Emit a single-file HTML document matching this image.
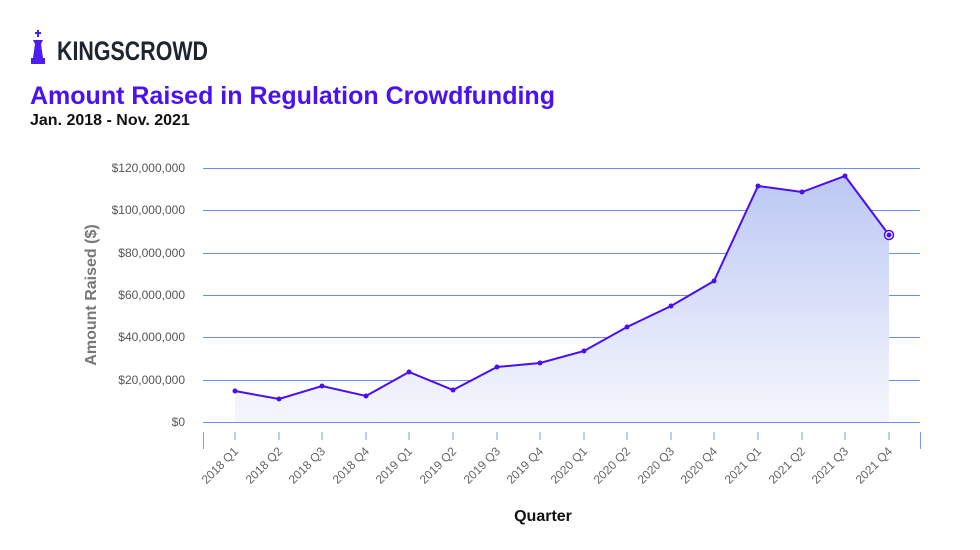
<!DOCTYPE html>
<html><head><meta charset="utf-8"><style>
body{margin:0;width:980px;height:550px;background:#fff;overflow:hidden;font-family:"Liberation Sans",sans-serif}
</style></head><body>
<svg width="980" height="550" viewBox="0 0 980 550" xmlns="http://www.w3.org/2000/svg" style="position:absolute;left:0;top:0">
<defs>
<linearGradient id="g" x1="0" y1="0" x2="0" y2="1">
<stop offset="0" stop-color="#bcc8f4"/><stop offset="1" stop-color="#f6f7fd"/>
</linearGradient>
</defs>
<!-- logo -->
<g fill="#4a1df0">
<rect x="37" y="30" width="2" height="7"/><rect x="35" y="32" width="6" height="2"/>
<path d="M33 40 h10 l-2 4 h-6z"/><path d="M35 44 h6 l2 14 h-10z"/><rect x="31" y="58" width="14" height="6"/>
</g>
<text x="57" y="60" font-size="27" font-weight="bold" fill="#1f2530" textLength="151" lengthAdjust="spacingAndGlyphs">KINGSCROWD</text>
<text x="30" y="104" font-size="25" font-weight="bold" fill="#4a12f2">Amount Raised in Regulation Crowdfunding</text>
<text x="30" y="125" font-size="16" font-weight="bold" fill="#111">Jan. 2018 - Nov. 2021</text>
<!-- grid -->
<g stroke="#6b8cf0" stroke-width="1">
<line x1="203" x2="920" y1="168.5" y2="168.5"/><line x1="203" x2="920" y1="210.5" y2="210.5"/>
<line x1="203" x2="920" y1="253.5" y2="253.5"/><line x1="203" x2="920" y1="295.5" y2="295.5"/>
<line x1="203" x2="920" y1="337.5" y2="337.5"/><line x1="203" x2="920" y1="380.5" y2="380.5"/>
<line x1="203" x2="920" y1="422.5" y2="422.5"/>
</g>
<g font-size="12" fill="#555" text-anchor="end">
<text x="185" y="172">$120,000,000</text><text x="185" y="214">$100,000,000</text>
<text x="185" y="257">$80,000,000</text><text x="185" y="299">$60,000,000</text>
<text x="185" y="341">$40,000,000</text><text x="185" y="384">$20,000,000</text>
<text x="185" y="426">$0</text>
</g>
<text transform="translate(96,295) rotate(-90)" font-size="16" font-weight="bold" fill="#777" text-anchor="middle">Amount Raised ($)</text>
<path d="M235 391 L279 399 L322 386 L366 396 L409 372 L453 390 L497 367 L540 363 L584 351 L627 327 L671 306 L714 281 L758 186 L802 192 L845 176 L889 235 L889 422 L235 422Z" fill="url(#g)"/>
<polyline points="235,391 279,399 322,386 366,396 409,372 453,390 497,367 540,363 584,351 627,327 671,306 714,281 758,186 802,192 845,176 889,235" fill="none" stroke="#4a0ff0" stroke-width="2"/>
<g fill="#4a0ff0">
<circle cx="235" cy="391" r="2.5"/><circle cx="279" cy="399" r="2.5"/><circle cx="322" cy="386" r="2.5"/><circle cx="366" cy="396" r="2.5"/>
<circle cx="409" cy="372" r="2.5"/><circle cx="453" cy="390" r="2.5"/><circle cx="497" cy="367" r="2.5"/><circle cx="540" cy="363" r="2.5"/>
<circle cx="584" cy="351" r="2.5"/><circle cx="627" cy="327" r="2.5"/><circle cx="671" cy="306" r="2.5"/><circle cx="714" cy="281" r="2.5"/>
<circle cx="758" cy="186" r="2.5"/><circle cx="802" cy="192" r="2.5"/><circle cx="845" cy="176" r="2.5"/>
</g>
<circle cx="889" cy="235" r="4.5" fill="#fff" stroke="#4a0ff0" stroke-width="1.5"/><circle cx="889" cy="235" r="2.5" fill="#4a0ff0"/>
<g stroke="#7e9af2" stroke-width="1">
<line x1="203.5" x2="203.5" y1="432" y2="449"/><line x1="920.5" x2="920.5" y1="432" y2="449"/>
<line x1="235" x2="235" y1="432" y2="440"/><line x1="279" x2="279" y1="432" y2="440"/><line x1="322" x2="322" y1="432" y2="440"/><line x1="366" x2="366" y1="432" y2="440"/>
<line x1="409" x2="409" y1="432" y2="440"/><line x1="453" x2="453" y1="432" y2="440"/><line x1="497" x2="497" y1="432" y2="440"/><line x1="540" x2="540" y1="432" y2="440"/>
<line x1="584" x2="584" y1="432" y2="440"/><line x1="627" x2="627" y1="432" y2="440"/><line x1="671" x2="671" y1="432" y2="440"/><line x1="714" x2="714" y1="432" y2="440"/>
<line x1="758" x2="758" y1="432" y2="440"/><line x1="802" x2="802" y1="432" y2="440"/><line x1="845" x2="845" y1="432" y2="440"/><line x1="889" x2="889" y1="432" y2="440"/>
</g>
<g font-size="12" fill="#666" text-anchor="end">
<text transform="translate(239,452) rotate(-45)">2018 Q1</text><text transform="translate(283,452) rotate(-45)">2018 Q2</text>
<text transform="translate(326,452) rotate(-45)">2018 Q3</text><text transform="translate(370,452) rotate(-45)">2018 Q4</text>
<text transform="translate(413,452) rotate(-45)">2019 Q1</text><text transform="translate(457,452) rotate(-45)">2019 Q2</text>
<text transform="translate(501,452) rotate(-45)">2019 Q3</text><text transform="translate(544,452) rotate(-45)">2019 Q4</text>
<text transform="translate(588,452) rotate(-45)">2020 Q1</text><text transform="translate(631,452) rotate(-45)">2020 Q2</text>
<text transform="translate(675,452) rotate(-45)">2020 Q3</text><text transform="translate(718,452) rotate(-45)">2020 Q4</text>
<text transform="translate(762,452) rotate(-45)">2021 Q1</text><text transform="translate(806,452) rotate(-45)">2021 Q2</text>
<text transform="translate(849,452) rotate(-45)">2021 Q3</text><text transform="translate(893,452) rotate(-45)">2021 Q4</text>
</g>
<text x="543" y="521" font-size="16" font-weight="bold" fill="#111" text-anchor="middle">Quarter</text>
</svg>
</body></html>
